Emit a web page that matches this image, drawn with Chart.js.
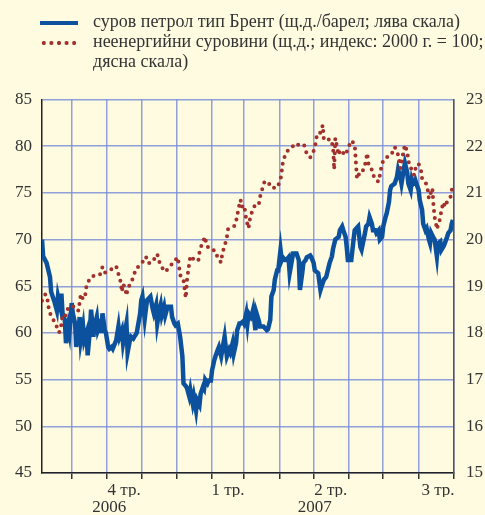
<!DOCTYPE html>
<html>
<head>
<meta charset="utf-8">
<script src="https://cdn.jsdelivr.net/npm/chart.js@4.4.0/dist/chart.umd.min.js"></script>
<style>
  html, body { margin: 0; padding: 0; background: #fefbe1; }
  #wrap { position: relative; width: 485px; height: 515px; overflow: hidden; }
  #chart { position: absolute; left: 0; top: 0; }
  .legend { position: absolute; left: 0; top: 11px; font: 18px "Liberation Serif", serif; color: #333; line-height: 20px; }
  .row { position: relative; padding-left: 93px; white-space: nowrap; }
  .swatch { position: absolute; left: 40px; width: 38px; }
  .swatch.line { top: 10px; height: 4px; background: #0b519d; }
  .swatch.dots { top: 9px; height: 6px; background: radial-gradient(circle, #a2302c 1.8px, transparent 2.3px) 0 0 / 7.6px 6px repeat-x; }
</style>
</head>
<body>
<div id="wrap">
  <canvas id="chart" width="485" height="515"></canvas>
  <div class="legend">
    <div class="row"><span class="swatch line"></span>суров петрол тип Брент (щ.д./барел; лява скала)</div>
    <div class="row"><span class="swatch dots"></span>неенергийни суровини (щ.д.; индекс: 2000 г. = 100;<br>дясна скала)</div>
  </div>
</div>
<script>
// days counted from 1 Oct 2006
const brentDays = [-26,-25,-22,-19,-18,-15,-13,-12,-10,-9,-8,-6,-5,-3,-2,0,1,3,4,6,7,8,10,11,13,14,16,17,19,20,22,23,25,26,27,29,30,32,33,35,36,38,39,41,42,44,45,46,48,49,51,52,54,55,57,58,60,61,62,64,66,69,71,72,74,75,77,78,79,81,82,84,87,88,90,91,93,94,95,97,98,100,101,103,104,106,107,109,110,112,113,115,116,117,119,120,122,123,125,126,128,129,131,132,134,135,136,138,139,141,142,144,145,147,148,150,151,153,154,155,157,158,159,161,162,164,165,168,171,172,174,175,177,178,180,181,183,184,185,187,188,190,191,193,194,197,199,200,202,203,205,206,209,210,212,213,216,218,219,221,223,226,228,229,231,234,235,237,238,240,241,242,245,247,248,251,253,254,257,258,260,261,263,264,266,267,269,270,272,273,275,276,278,279,280,283,285,286,288,289,291,292,294,295,297,298,299,301,302,304,305,307,308,310,311,313,314,315,317,318,320,321,323,324,326,327,329,330,332,333,334];
const brentPrice = [70.0,68.2,67.5,66.0,64.4,63.3,62.4,63.9,62.8,64.2,62.1,61.4,58.9,60.7,60.0,63.2,62.1,61.0,58.5,60.3,61.7,59.2,60.7,59.2,60.0,57.6,60.3,62.5,59.6,60.7,61.7,60.3,61.0,60.0,62.1,60.3,60.0,58.5,58.3,58.5,58.3,58.9,59.2,60.7,59.6,60.3,58.9,59.6,61.0,57.9,59.2,59.6,59.4,59.6,60.0,60.7,62.1,63.5,63.9,61.5,63.5,63.9,62.6,62.1,63.0,61.0,62.5,63.0,61.9,62.8,61.9,62.8,62.8,61.7,61.0,60.8,61.0,60.3,59.6,57.5,54.6,54.3,54.1,53.2,53.9,52.5,53.2,51.7,52.8,52.3,53.5,54.2,54.0,55.0,54.6,54.9,54.9,56.0,57.1,57.5,58.2,58.5,57.5,58.2,59.6,58.5,57.5,58.2,57.9,58.9,57.8,58.9,60.3,61.0,61.0,61.2,61.0,62.1,61.0,62.1,61.7,62.0,62.5,60.3,62.1,61.3,60.7,60.7,60.3,60.4,61.4,63.9,64.6,65.7,66.7,66.7,68.9,67.8,68.1,67.8,67.8,68.1,66.4,67.8,68.5,68.5,67.8,64.6,66.4,67.5,67.8,68.1,68.3,68.1,67.5,66.7,66.4,64.6,65.0,65.7,66.0,67.5,68.2,69.0,70.0,70.3,71.0,71.4,71.0,70.3,69.2,67.8,67.8,70.0,71.0,71.4,69.2,68.9,70.7,71.4,71.7,72.4,71.7,71.0,71.0,70.7,71.0,70.0,70.3,71.4,72.4,72.8,74.0,75.3,75.7,76.0,76.7,77.5,76.7,76.0,77.5,78.2,77.2,76.0,75.3,76.4,76.0,76.4,76.0,75.3,74.2,73.2,71.7,71.0,71.2,70.0,69.6,70.7,70.2,70.0,68.2,69.6,69.8,68.9,69.3,69.6,70.3,70.7,71.0,71.7,72.1];

const commDays = [-26,-23,-21,-20,-18,-15,-13,-11,-9,-8,-6,-3,1,4,6,7,8,10,12,13,16,18,20,25,27,29,33,36,39,41,43,44,45,47,48,49,52,54,56,58,62,64,67,68,73,75,77,80,82,86,90,93,94,95,96,98,100,101,102,103,104,108,111,112,114,117,118,121,126,128,131,132,134,136,137,140,143,145,146,148,149,151,152,153,155,156,158,159,161,164,165,167,169,172,175,180,183,184,185,187,190,192,195,197,199,202,204,206,209,212,214,215,218,220,221,227,229,230,231,234,235,240,242,245,248,249,250,253,255,257,259,260,262,264,266,269,271,273,277,280,283,285,287,288,291,292,294,296,298,300,302,304,306,307,310,312,313,316,317,318,319,320,321,323,324,326,327,329,332,333,334];
const commIndex = [18.69,18.83,18.69,18.51,18.35,18.24,18.13,18.01,18.18,18.38,18.35,18.54,18.58,18.48,18.48,18.66,18.83,18.72,18.83,19.01,19.17,19.20,19.24,19.26,19.41,19.29,19.35,19.37,19.43,19.26,19.09,18.88,19.05,18.96,18.80,18.93,19.10,19.18,19.36,19.41,19.51,19.63,19.60,19.49,19.60,19.69,19.51,19.37,19.31,19.42,19.54,19.62,19.43,19.26,19.17,19.13,18.75,19.12,19.31,19.49,19.65,19.55,19.55,19.73,19.90,20.06,19.88,19.79,19.76,19.60,19.51,19.71,19.86,20.05,20.22,20.26,20.30,20.49,20.65,20.85,20.70,20.74,20.60,20.42,20.24,20.42,20.60,20.65,20.76,20.76,20.91,21.08,21.24,21.24,21.11,21.11,21.28,21.45,21.65,21.81,21.93,21.98,22.01,21.98,22.05,22.04,22.01,21.83,21.76,21.90,22.08,22.27,22.29,22.45,22.13,22.15,21.99,21.50,22.17,21.81,21.92,21.81,21.95,22.12,22.04,21.67,21.30,21.47,21.47,21.60,21.85,21.63,21.58,21.40,21.28,21.24,21.51,21.70,21.78,21.81,21.98,21.90,21.72,21.53,21.92,22.03,21.88,21.55,21.51,21.38,21.60,21.62,21.50,21.31,21.24,21.06,20.88,21.10,20.74,20.48,20.38,20.22,20.31,20.46,20.65,20.80,20.70,20.81,20.92,21.05,21.17];

const monthStarts = [0, 31, 61, 92, 123, 151, 182, 212, 243, 273, 304, 335];
const quarterMids = [46, 137, 227, 321];
const quarterLabels = ['4 тр.', '1 тр.', '2 тр.', '3 тр.'];
const yearMids = [33, 213];
const yearLabels = ['2006', '2007'];

const gridBlue = 'rgba(118,138,215,0.8)';
const font = { family: '"Liberation Serif", "Times New Roman", serif', size: 17 };

const ctx = document.getElementById('chart').getContext('2d');

new Chart(ctx, {
  type: 'line',
  data: {
    datasets: [
      {
        data: commDays.map((d, i) => ({ x: d, y: commIndex[i] })),
        yAxisID: 'y1',
        borderColor: '#a2302c',
        borderWidth: 4,
        borderDash: [0, 7],
        borderCapStyle: 'round',
        pointRadius: 0,
        tension: 0,
        order: 0
      },
      {
        data: brentDays.map((d, i) => ({ x: d, y: brentPrice[i] })),
        yAxisID: 'y',
        borderColor: '#0b519d',
        borderWidth: 4.5,
        pointRadius: 0,
        tension: 0,
        order: 1
      }
    ]
  },
  options: {
    responsive: false,
    animation: false,
    devicePixelRatio: 1,
    layout: { padding: { top: 99.5, left: 0, right: 0, bottom: 0 } },
    plugins: { legend: { display: false }, tooltip: { enabled: false } },
    scales: {
      x: {
        type: 'linear',
        min: -26,
        max: 335,
        weight: 0,
        afterBuildTicks: (scale) => {
          scale.ticks = [...monthStarts, ...quarterMids].sort((a, b) => a - b).map(v => ({ value: v }));
        },
        afterFit: (scale) => { scale.height = 24; },
        grid: {
          color: (c) => (c.tick && monthStarts.includes(c.tick.value)) ? gridBlue : 'rgba(0,0,0,0)',
          tickColor: (c) => (c.tick && monthStarts.includes(c.tick.value)) ? '#333' : 'rgba(0,0,0,0)',
          lineWidth: 1.5,
          tickWidth: 1.5,
          tickLength: 6
        },
        border: { color: '#222', width: 1.5 },
        ticks: {
          autoSkip: false,
          maxRotation: 0,
          padding: 1,
          color: '#333',
          font: font,
          callback: (v) => {
            const i = quarterMids.indexOf(v);
            return i >= 0 ? quarterLabels[i] : '';
          }
        }
      },
      x2: {
        type: 'linear',
        position: 'bottom',
        min: -26,
        max: 335,
        weight: 1,
        afterBuildTicks: (scale) => { scale.ticks = yearMids.map(v => ({ value: v })); },
        afterFit: (scale) => { scale.height = 18; },
        grid: { display: false, drawTicks: false },
        border: { display: false },
        ticks: {
          autoSkip: false,
          maxRotation: 0,
          padding: 0,
          color: '#333',
          font: font,
          callback: (v) => {
            const i = yearMids.indexOf(v);
            return i >= 0 ? yearLabels[i] : '';
          }
        }
      },
      y: {
        position: 'left',
        min: 45,
        max: 85,
        afterFit: (scale) => { scale.width = 42; },
        grid: { color: gridBlue, lineWidth: 1.5, drawTicks: false },
        border: { color: '#222', width: 1.5 },
        ticks: { stepSize: 5, padding: 10, color: '#333', font: font }
      },
      y1: {
        position: 'right',
        min: 15,
        max: 23,
        afterFit: (scale) => { scale.width = 31; },
        grid: { display: false, drawTicks: false },
        border: { color: '#555', width: 1.5 },
        ticks: { stepSize: 1, padding: 12, color: '#333', font: font }
      }
    }
  }
});
</script>
</body>
</html>
